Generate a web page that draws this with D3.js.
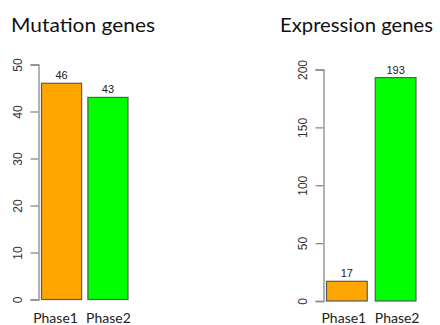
<!DOCTYPE html>
<html>
<head>
<meta charset="utf-8">
<script src="https://cdn.jsdelivr.net/npm/d3@7"></script>
<style>
  body { margin: 0; background: #fff; }
  svg { display: block; }
</style>
</head>
<body>
<div id="chart"></div>
<script>
// data
var phases = ["Phase1", "Phase2"];
var barColors = ["#FFA500", "#00FF00"];
var mutationCounts = [46, 43];
var expressionCounts = [17, 193];
var mutationTicks = [0, 10, 20, 30, 40, 50];
var expressionTicks = [0, 50, 100, 150, 200];

var svg = d3.select("#chart").append("svg")
  .attr("width", 440)
  .attr("height", 325);

// one small bar panel, laid out like the R barplot
function drawPanel(opt) {
  var g = svg.append("g");

  var x = d3.scaleBand()
    .domain(phases)
    .range([opt.barLeft, opt.barRight])
    .paddingInner(opt.pad)
    .paddingOuter(0);

  var y = d3.scaleLinear()
    .domain([0, d3.max(opt.ticks)])
    .range([opt.bottom, opt.top]);

  // title
  g.append("text")
    .attr("x", opt.titleX)
    .attr("y", 32)
    .attr("textLength", opt.titleW)
    .attr("lengthAdjust", "spacingAndGlyphs")
    .style("font-family", "Lato, 'Open Sans', sans-serif")
    .style("font-size", "20px")
    .style("fill", "#111")
    .text(opt.title);

  // y axis
  var axis = g.append("g")
    .attr("transform", "translate(" + opt.axisX + ",0)")
    .call(d3.axisLeft(y).tickValues(opt.ticks).tickSize(8).tickPadding(6));
  axis.select(".domain").attr("stroke", "#8a8a8a").attr("stroke-width", 1.3);
  axis.selectAll(".tick line").attr("stroke", "#8a8a8a").attr("stroke-width", 1.3);
  axis.selectAll(".tick text")
    .attr("transform", "rotate(-90)")
    .attr("x", 0)
    .attr("y", -17)
    .attr("dy", "0")
    .style("text-anchor", "middle")
    .style("font-family", "'Liberation Sans', Arial, sans-serif")
    .style("font-size", "12px")
    .style("fill", "#333");

  // bars
  g.selectAll(".bar")
    .data(opt.values)
    .enter().append("rect")
    .attr("class", "bar")
    .attr("x", function(d, i) { return x(phases[i]); })
    .attr("width", x.bandwidth())
    .attr("y", function(d) { return y(d); })
    .attr("height", function(d) { return opt.bottom - y(d); })
    .attr("fill", function(d, i) { return barColors[i]; })
    .attr("stroke", "#5a5a5a")
    .attr("stroke-width", 1.2);

  // value labels on top
  g.selectAll(".val")
    .data(opt.values)
    .enter().append("text")
    .attr("class", "val")
    .attr("x", function(d, i) { return x(phases[i]) + x.bandwidth() / 2; })
    .attr("y", function(d) { return y(d) - 4; })
    .style("text-anchor", "middle")
    .style("font-family", "'Liberation Sans', Arial, sans-serif")
    .style("font-size", "11px")
    .style("fill", "#222")
    .text(function(d) { return d; });

  // category names under bars (nudged as in the picture)
  g.selectAll(".cat")
    .data(phases)
    .enter().append("text")
    .attr("class", "cat")
    .attr("x", function(d, i) { return x(d) + x.bandwidth() / 2 + opt.nudge[i]; })
    .attr("y", 322.5)
    .style("text-anchor", "middle")
    .style("font-family", "Lato, 'Open Sans', sans-serif")
    .style("font-size", "14px")
    .style("fill", "#222")
    .text(function(d) { return d; });
}

drawPanel({
  title: "Mutation genes", titleX: 11, titleW: 144,
  values: mutationCounts, ticks: mutationTicks,
  axisX: 38.5, barLeft: 41.5, barRight: 128, pad: 0.135,
  top: 64.5, bottom: 299.5, nudge: [-6, 0.5]
});

drawPanel({
  title: "Expression genes", titleX: 280, titleW: 153,
  values: expressionCounts, ticks: expressionTicks,
  axisX: 323.5, barLeft: 326.5, barRight: 416, pad: 0.165,
  top: 69.5, bottom: 301, nudge: [-3, 1.5]
});
</script>
</body>
</html>
